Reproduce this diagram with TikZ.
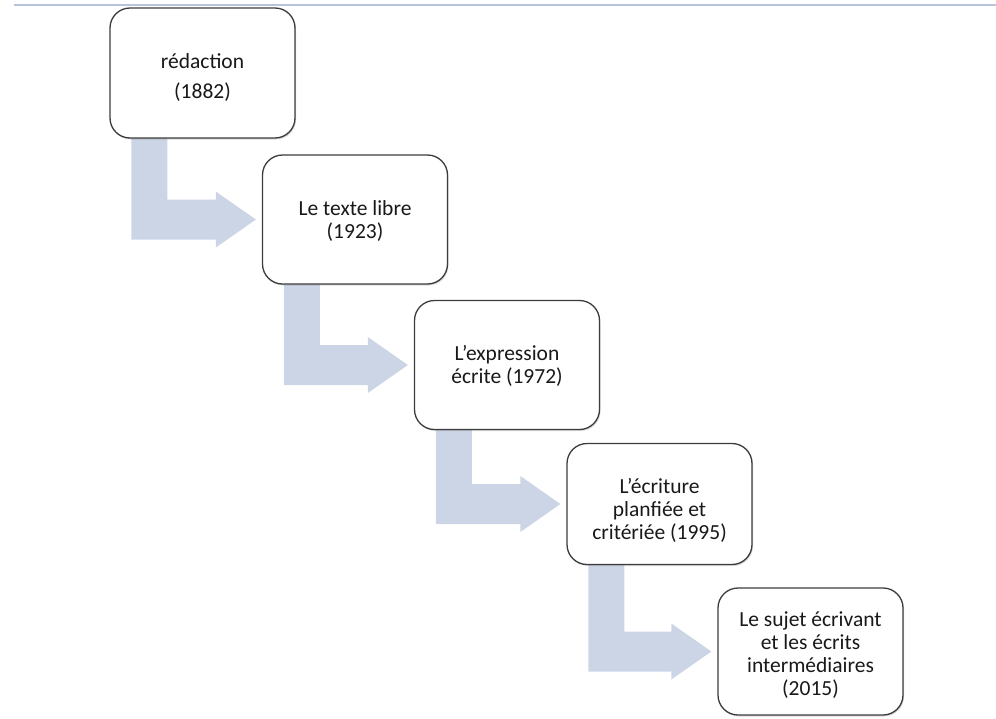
\documentclass[tikz,border=0pt]{standalone}
\usepackage{fontspec}
\setmainfont{Carlito}
\usetikzlibrary{calc,backgrounds,shadows}
\definecolor{arrowfill}{RGB}{204,213,230}
\definecolor{rulecol}{RGB}{184,196,222}
\definecolor{boxline}{RGB}{60,60,60}
\tikzset{
  stagebox/.style={draw=boxline, line width=1.3pt, fill=white, rounded corners=20pt,
    minimum width=185pt, inner sep=0pt,
    drop shadow={opacity=0.3, shadow xshift=1pt, shadow yshift=-1.5pt}},
  stagetext/.style={align=center, inner sep=0pt, text=black!90,
    font=\fontsize{21.5pt}{23pt}\selectfont},
  bentarrow/.style={fill=arrowfill, draw=none}
}
\newcommand{\bentarr}[2]{%
  \coordinate (sa) at ($(#1.south west)+(22pt,0.6pt)$);
  \coordinate (sb) at ($(#1.south west)+(58pt,0.6pt)$);
  \coordinate (hu) at ($(#2.west)+(0,20pt)$);
  \coordinate (hd) at ($(#2.west)+(0,-20pt)$);
  \coordinate (h1) at ($(#2.west)+(-46pt,20pt)$);
  \coordinate (h2) at ($(#2.west)+(-46pt,28pt)$);
  \coordinate (tp) at ($(#2.west)+(-6pt,0)$);
  \coordinate (h3) at ($(#2.west)+(-46pt,-28pt)$);
  \coordinate (h4) at ($(#2.west)+(-46pt,-20pt)$);
  \path[bentarrow] (sa) -- (sb) -- (sb |- hu) -- (h1) -- (h2) -- (tp)
    -- (h3) -- (h4) -- (sa |- hd) -- cycle;}
\begin{document}
\begin{tikzpicture}[x=1pt,y=1pt]
\useasboundingbox (0,0) rectangle (996,-718);
\draw[rulecol, line width=1.5pt] (14,-5) coordinate (r1) -- (996,-5) coordinate (r2);
\node[stagebox, minimum height=130pt] (b1) at (202.5,-73) {};
\node[stagebox, minimum height=129pt] (b2) at (355,-219.5) {};
\node[stagebox, minimum height=129pt] (b3) at (507,-365) {};
\node[stagebox, minimum height=121pt] (b4) at (659.5,-504) {};
\node[stagebox, minimum height=127pt] (b5) at (810.5,-651.5) {};
\node[stagetext] (t1) at ($(b1.center)+(0,-5pt)$) {rédaction\\[7pt](1882)};
\node[stagetext] (t2) at ($(b2.center)+(0,-2pt)$) {Le texte libre\\(1923)};
\node[stagetext] (t3) at ($(b3.center)+(0,-1pt)$) {L’expression\\écrite (1972)};
\node[stagetext] (t4) at ($(b4.center)+(0,-6pt)$) {L’écriture\\planfiée et\\critériée (1995)};
\node[stagetext] (t5) at ($(b5.center)+(0,-4pt)$) {Le sujet écrivant\\et les écrits\\intermédiaires\\(2015)};
\begin{scope}[on background layer]
\bentarr{b1}{b2}
\bentarr{b2}{b3}
\bentarr{b3}{b4}
\bentarr{b4}{b5}
\end{scope}
\end{tikzpicture}
\end{document}
